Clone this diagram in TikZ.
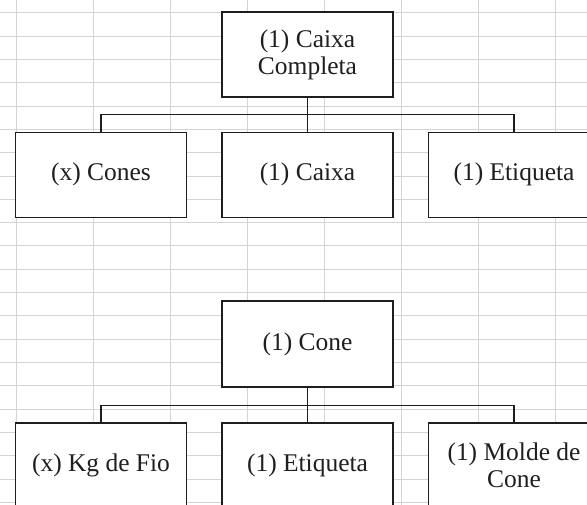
\documentclass[tikz,border=0pt]{standalone}
\usepackage{fontspec}
\setmainfont{Liberation Serif}
\definecolor{gridgray}{RGB}{212,212,212}
\definecolor{inkline}{RGB}{30,30,30}
\begin{document}
\begin{tikzpicture}[x=0.75pt,y=-0.75pt,
  itembox/.style={draw=inkline,line width=1.1pt,fill=white,rectangle,
    minimum width=128.25pt,minimum height=63.75pt,inner sep=0pt,
    align=center,text=black!88,
    font=\fontsize{19.1}{20.3}\selectfont},
  link/.style={draw=inkline,line width=1.1pt},
  cell/.style={draw=gridgray,line width=0.75pt}]
  \useasboundingbox (0,0) rectangle (587,505);
  \clip (0,0) rectangle (587,505);
  \fill[white] (0,0) rectangle (587,505);
  % spreadsheet cell grid
  \foreach \gx in {16,93,170,247,324,401,478,555}
    \draw[cell] (\gx,0) -- (\gx,505);
  \foreach \k in {0,...,21}
    \draw[cell] (0,{12.7+23.33*\k}) -- (587,{12.7+23.33*\k});

  % first tree: complete box
  \node[itembox] (caixacompleta) at (307.5,54.5) {(1) Caixa\\Completa};
  \node[itembox] (cones) at (101,174.75) {(x) Cones};
  \node[itembox] (caixa) at (307.5,174.75) {(1) Caixa};
  \node[itembox] (etiqA) at (514,174.75) {(1) Etiqueta};
  \coordinate (busA) at (307.5,114.3);
  \draw[link] (caixacompleta.south) -- (caixa.north);
  \draw[link] (cones.north) -- (cones.north |- busA) -- (etiqA.north |- busA) -- (etiqA.north);

  % second tree: cone
  \node[itembox,minimum height=64.5pt] (cone) at (307.5,344) {(1) Cone};
  \node[itembox] (kgfio) at (101,465.5) {(x) Kg de Fio};
  \node[itembox] (etiqB) at (307.5,465.5) {(1) Etiqueta};
  \node[itembox] (molde) at (514,465.5) {(1) Molde de\\Cone};
  \coordinate (busB) at (307.5,405.7);
  \draw[link] (cone.south) -- (etiqB.north);
  \draw[link] (kgfio.north) -- (kgfio.north |- busB) -- (molde.north |- busB) -- (molde.north);
\end{tikzpicture}
\end{document}
